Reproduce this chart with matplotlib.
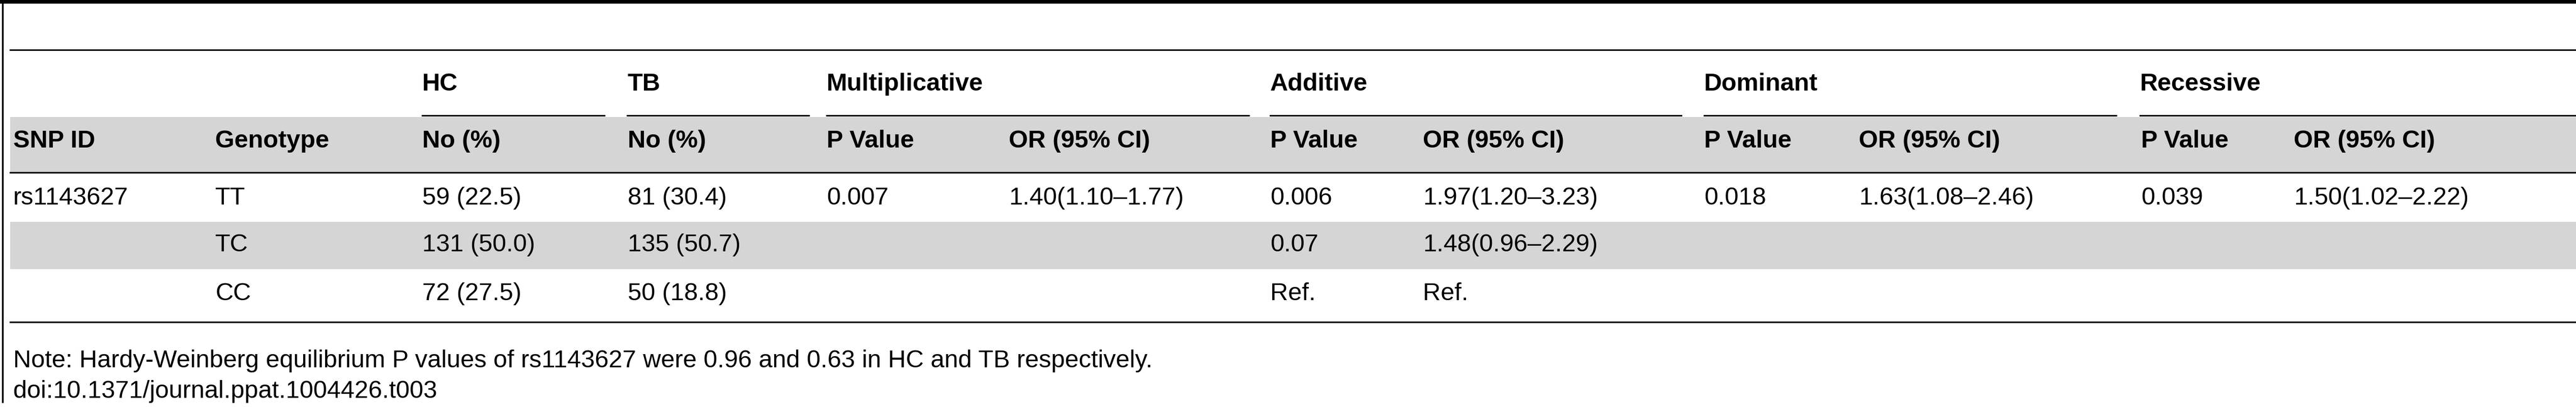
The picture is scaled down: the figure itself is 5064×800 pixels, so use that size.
import matplotlib.pyplot as plt

plt.rcParams['font.family'] = ['Liberation Sans Narrow', 'Liberation Sans', 'DejaVu Sans']

# table content
groups = ['HC', 'TB', 'Multiplicative', 'Additive', 'Dominant', 'Recessive']
headers = ['SNP ID', 'Genotype', 'No (%)', 'No (%)', 'P Value', 'OR (95% CI)',
           'P Value', 'OR (95% CI)', 'P Value', 'OR (95% CI)', 'P Value', 'OR (95% CI)']
rows = [
    ['rs1143627', 'TT', '59 (22.5)', '81 (30.4)', '0.007', '1.40(1.10\u20131.77)',
     '0.006', '1.97(1.20\u20133.23)', '0.018', '1.63(1.08\u20132.46)', '0.039', '1.50(1.02\u20132.22)'],
    ['', 'TC', '131 (50.0)', '135 (50.7)', '', '', '0.07', '1.48(0.96\u20132.29)', '', '', '', ''],
    ['', 'CC', '72 (27.5)', '50 (18.8)', '', '', 'Ref.', 'Ref.', '', '', '', ''],
]
note = 'Note: Hardy-Weinberg equilibrium P values of rs1143627 were 0.96 and 0.63 in HC and TB respectively.'
doi = 'doi:10.1371/journal.ppat.1004426.t003'

# layout (pixels)
col_x = [26, 423, 830, 1234, 1625, 1983, 2497, 2797, 3350, 3654, 4209, 4509]
group_x = [(830, 1188), (1233, 1590), (1625, 2455), (2497, 3305), (3350, 4160), (4207, 5064)]
row_y = [390, 482, 577]
fs = 35

fig = plt.figure(figsize=(50.64, 8), dpi=100)
ax = fig.add_axes([0, 0, 1, 1])
ax.set_xlim(0, 5064)
ax.set_ylim(800, 0)
ax.axis('off')

# backgrounds
ax.axhspan(230, 339, xmin=20/5064, xmax=1, color='#d5d5d5', lw=0)
ax.axhspan(436, 529, xmin=20/5064, xmax=1, color='#d5d5d5', lw=0)

# lines
ax.axhline(3, color='black', lw=6)
ax.plot([5, 5], [0, 790], color='black', lw=2.5)
for y in [98, 339, 633]:
    ax.plot([20, 5064], [y, y], color='black', lw=2.2)
for (x0, x1), g in zip(group_x, groups):
    ax.plot([x0, x1], [227, 227], color='black', lw=2.2)
    ax.text(x0, 165, g, fontsize=fs, fontweight='bold', va='center', ha='left')

for x, h in zip(col_x, headers):
    ax.text(x, 277, h, fontsize=fs, fontweight='bold', va='center', ha='left')

for y, r in zip(row_y, rows):
    for x, v in zip(col_x, r):
        ax.text(x, y, v, fontsize=fs, va='center', ha='left')

ax.text(26, 709, note, fontsize=fs, va='center', ha='left')
ax.text(26, 770, doi, fontsize=fs, va='center', ha='left')

fig.savefig('out.png', dpi=100)
